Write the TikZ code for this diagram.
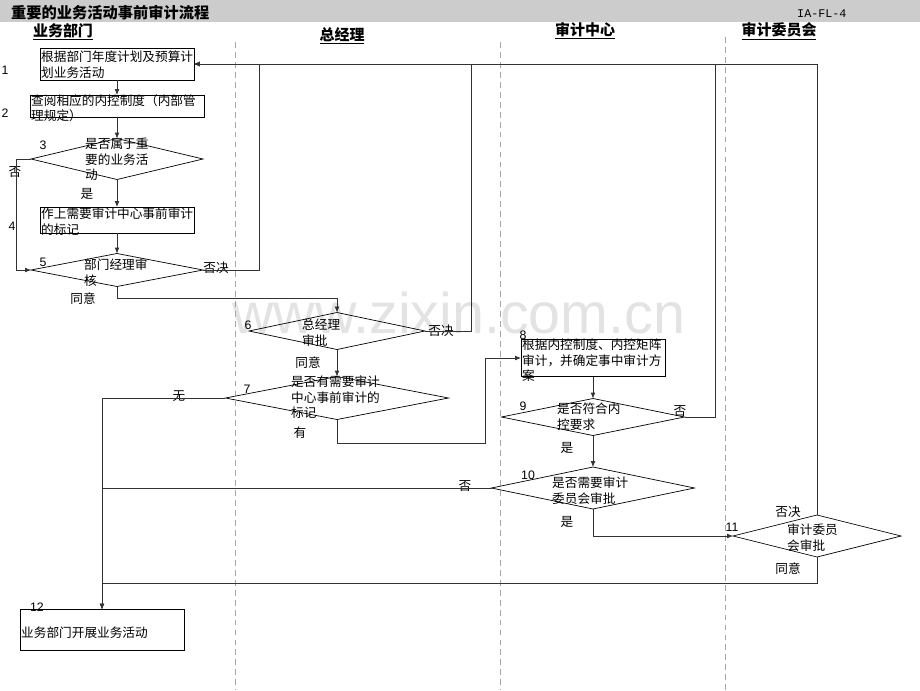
\documentclass[tikz,border=0pt]{standalone}
\usepackage{fontspec}
\newfontfamily\cjk{Noto Sans CJK SC}
\newfontfamily\numfont{Liberation Sans}
\newfontfamily\codefont{Liberation Mono}
\definecolor{bargray}{HTML}{CCCCCC}
\usetikzlibrary{shapes.geometric, arrows.meta}

\begin{document}
\begin{tikzpicture}[
    x=0.03cm, y=-0.03cm,
    box/.style={draw, line width=0.6pt, inner sep=0, outer sep=0},
    dia/.style={diamond, draw, line width=0.6pt, inner sep=0, outer sep=0},
    txt/.style={font=\cjk\fontsize{10.8}{13.2}\selectfont, align=left,
                inner sep=0, anchor=north west},
    lbl/.style={font=\cjk\fontsize{10.8}{12.8}\selectfont, inner sep=0},
    num/.style={font=\numfont\fontsize{10.5}{12}\selectfont, inner sep=0},
    head/.style={font=\cjk\bfseries\fontsize{12.8}{14}\selectfont,
                 inner sep=0, anchor=base},
    lane/.style={draw=black!35, line width=0.6pt, dash pattern=on 5pt off 3.5pt},
    line/.style={draw=black!80, line width=0.6pt},
    arr/.style={line, -{Latex[length=5pt, width=4pt]}}
  ]
  \useasboundingbox (0,0) rectangle (920,690);

  % title bar
  \fill[bargray] (0,0) rectangle (920,22);
  \node[font=\cjk\bfseries\fontsize{13}{14}\selectfont, inner sep=0, anchor=base west]
    (title) at (11,18) {重要的业务活动事前审计流程};
  \node[font=\codefont\fontsize{10}{11}\selectfont, inner sep=0, anchor=base west]
    (code) at (797,17) {IA-FL-4};

  % watermark
  \node[font=\numfont\fontsize{49}{50}\selectfont, text=black!11, inner sep=0,
        anchor=base west] (wm) at (232,333) {www.zixin.com.cn};

  % lanes
  \node[head] (h1) at (63,36) {\underline{业务部门}};
  \node[head] (h2) at (342,40) {\underline{总经理}};
  \node[head] (h3) at (585,35.5) {\underline{审计中心}};
  \node[head] (h4) at (779,35.5) {\underline{审计委员会}};
  \draw[lane] (235,42) -- (235,690);
  \draw[lane] (500,42) -- (500,690);
  \draw[lane] (725,37) -- (725,690);

  % shapes
  \node[box, minimum width=4.62cm, minimum height=0.96cm] (b1) at (117,64) {};
  \node[box, minimum width=5.22cm, minimum height=0.66cm] (b2) at (117,106) {};
  \node[dia, minimum width=5.16cm, minimum height=1.23cm] (d3) at (117,159) {};
  \node[box, minimum width=4.62cm, minimum height=0.78cm] (b4) at (117,220) {};
  \node[dia, minimum width=5.16cm, minimum height=0.99cm] (d5) at (117,270) {};
  \node[dia, minimum width=5.28cm, minimum height=1.11cm] (d6) at (337,331) {};
  \node[dia, minimum width=6.69cm, minimum height=1.29cm] (d7) at (337,398) {};
  \node[box, minimum width=4.32cm, minimum height=1.11cm] (b8) at (593,358) {};
  \node[dia, minimum width=5.49cm, minimum height=1.11cm] (d9) at (593,417) {};
  \node[dia, minimum width=6.09cm, minimum height=1.26cm] (d10) at (593,488) {};
  \node[dia, minimum width=5.04cm, minimum height=1.26cm] (d11) at (817,536) {};
  \node[box, minimum width=4.92cm, minimum height=1.23cm] (b12) at (102,630) {};

  % texts
  \node[txt] (t1) at (41,51) {根据部门年度计划及预算计\\划业务活动};
  \node[txt] (t2) at (31,94) {查阅相应的内控制度（内部管\\理规定）};
  \node[txt] (t3) at (85,138) {是否属于重\\要的业务活\\动};
  \node[txt] (t4) at (41,208) {作上需要审计中心事前审计\\的标记};
  \node[txt] (t5) at (84,259) {部门经理审\\核};
  \node[txt] (t6) at (302,319) {总经理\\审批};
  \node[txt] (t7) at (291,376) {是否有需要审计\\中心事前审计的\\标记};
  \node[txt] (t8) at (522,339) {根据内控制度、内控矩阵\\审计，并确定事中审计方\\案};
  \node[txt] (t9) at (557,403) {是否符合内\\控要求};
  \node[txt] (t10) at (552,477) {是否需要审计\\委员会审批};
  \node[txt] (t11) at (787,524) {审计委员\\会审批};
  \node[txt] (t12) at (21,627) {业务部门开展业务活动};

  % step numbers
  \node[num] (n1) at (5,70) {1};
  \node[num] (n2) at (5,113) {2};
  \node[num] (n3) at (43,145) {3};
  \node[num] (n4) at (12,226) {4};
  \node[num] (n5) at (43,262) {5};
  \node[num] (n6) at (248,325) {6};
  \node[num] (n7) at (247,389) {7};
  \node[num] (n8) at (523,335) {8};
  \node[num] (n9) at (523,406) {9};
  \node[num] (n10) at (528,475) {10};
  \node[num] (n11) at (732,527) {11};
  \node[num] (n12) at (37,607) {12};

  % branch labels
  \node[lbl] (l3n) at (15,172) {否};
  \node[lbl] (l3y) at (87,194) {是};
  \node[lbl] (l5n) at (216,268) {否决};
  \node[lbl] (l5y) at (83,299) {同意};
  \node[lbl] (l6n) at (441,331) {否决};
  \node[lbl] (l6y) at (308,363) {同意};
  \node[lbl] (l7n) at (179,396) {无};
  \node[lbl] (l7y) at (300,433) {有};
  \node[lbl] (l9n) at (680,411) {否};
  \node[lbl] (l9y) at (567,448) {是};
  \node[lbl] (l10n) at (465,486) {否};
  \node[lbl] (l10y) at (567,522) {是};
  \node[lbl] (l11n) at (788,512) {否决};
  \node[lbl] (l11y) at (788,569) {同意};

  % connectors
  \coordinate (k7) at (485,443);
  \draw[arr] (b1) -- (b2);
  \draw[arr] (b2) -- (d3);
  \draw[arr] (d3) -- (b4);
  \draw[arr] (b4) -- (d5);
  \draw[arr] (d3.west) -- ++(-15,0) |- (d5.west);
  \draw[arr] (d5.east) -- ++(56,0) |- (b1.east);
  \draw[arr] (d5.south) -- ++(0,12) -| (d6.north);
  \draw[arr] (d6.east) -- ++(46,0) |- (b1.east);
  \draw[arr] (d6) -- (d7);
  \draw[arr] (d7.west) -| (b12.north);
  \draw[arr] (d7.south) |- (k7) |- (b8.west);
  \draw[arr] (b8) -- (d9);
  \draw[arr] (d9.east) -- ++(31,0) |- (b1.east);
  \draw[arr] (d9) -- (d10);
  \draw[line] (d10.west) -- (d10.west -| b12.north);
  \draw[arr] (d10.south) |- (d11.west);
  \draw[arr] (d11.north) |- (b1.east);
  \draw[arr] (d11.south) -- ++(0,26) -| (b12.north);
\end{tikzpicture}
\end{document}
